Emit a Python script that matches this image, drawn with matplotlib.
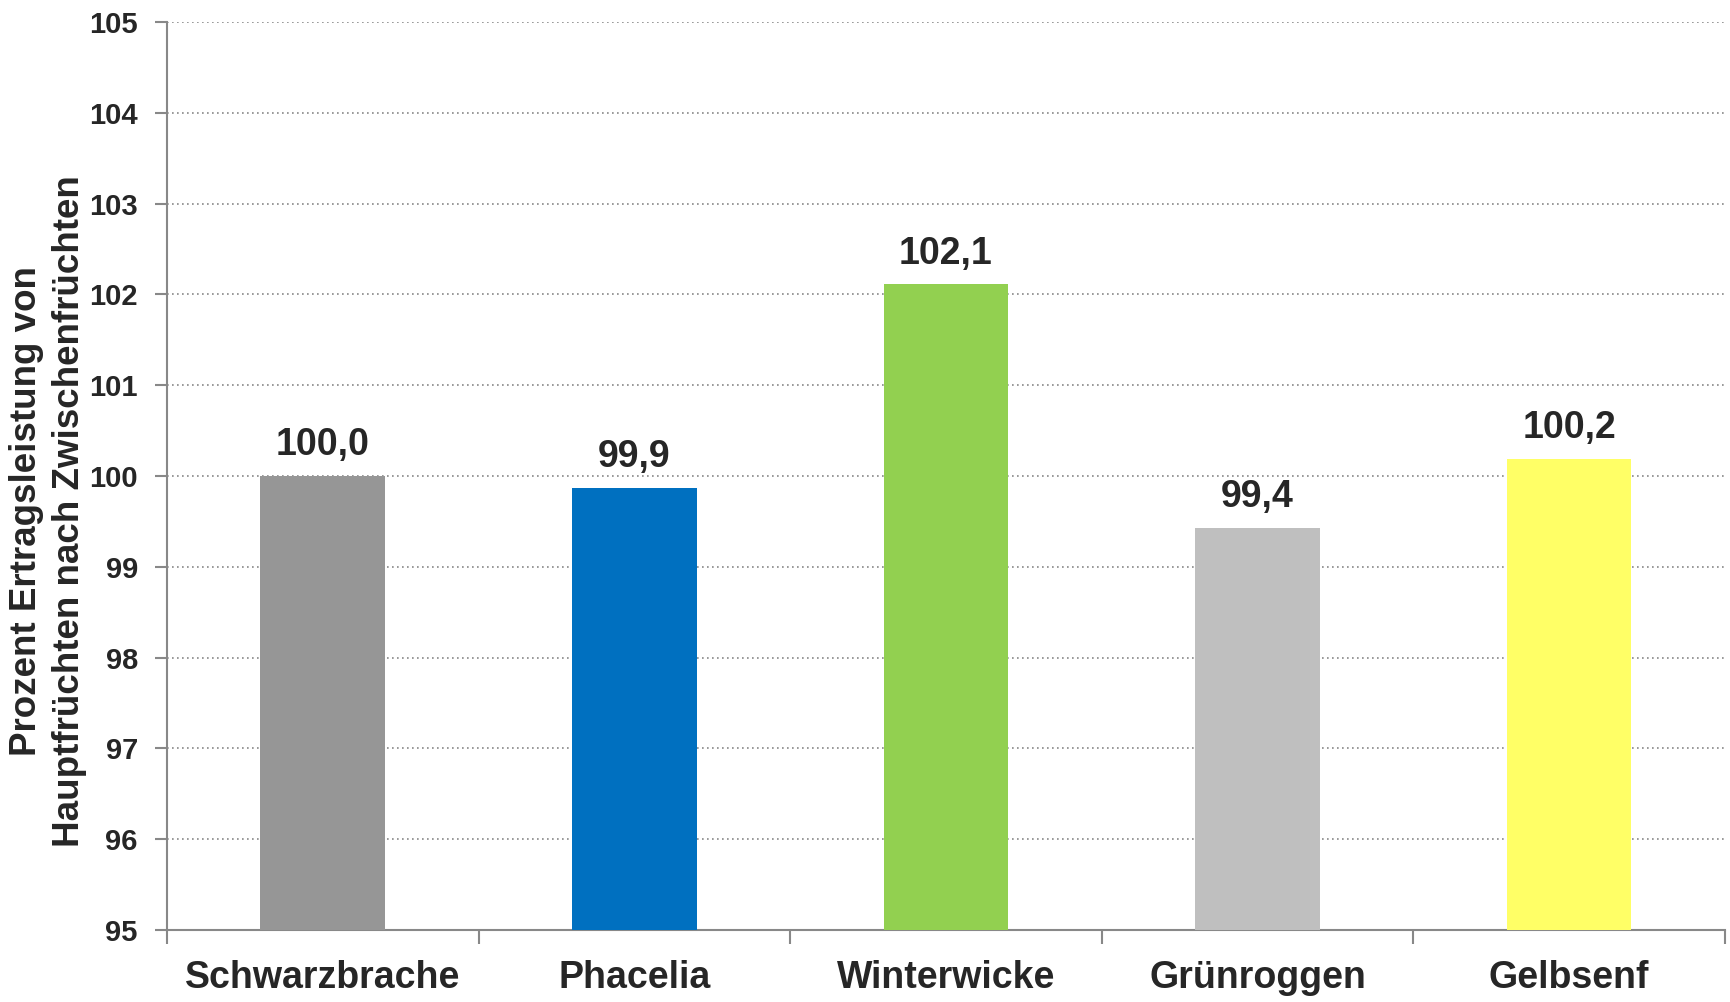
import numpy as np
import matplotlib.pyplot as plt

# Daten
kategorien = ["Schwarzbrache", "Phacelia", "Winterwicke", "Grünroggen", "Gelbsenf"]
werte = [100.0, 99.87, 102.11, 99.43, 100.19]
farben = ["#969696", "#0070C0", "#92D050", "#BFBFBF", "#FFFF66"]
y_ticks = [95, 96, 97, 98, 99, 100, 101, 102, 103, 104, 105]

plt.rcParams['font.family'] = ['Liberation Sans', 'DejaVu Sans']
plt.rcParams['font.weight'] = 'bold'

fig = plt.figure(figsize=(17.3, 10.02), dpi=100)
ax = fig.add_axes([0.0965, 0.072, 0.9005, 0.906])

x = np.arange(len(kategorien))
ax.bar(x, [w - 95 for w in werte], bottom=95, width=0.4, color=farben, zorder=3)

for xi, w in zip(x, werte):
    ax.text(xi, w + 0.14, f"{w:.1f}".replace(".", ","), ha="center", va="bottom",
            fontsize=27, fontweight="bold", color="#262626")

ax.set_xlim(-0.5, len(kategorien) - 0.5)
ax.set_ylim(95, 105)
ax.set_yticks(y_ticks)
ax.set_yticklabels([str(t) for t in y_ticks], fontsize=21, fontweight="bold", color="#262626")
ax.set_xticks(x)
ax.set_xticklabels(kategorien, fontsize=27, fontweight="bold", color="#262626")
ax.set_xticks(np.arange(-0.5, len(kategorien), 1), minor=True)
ax.tick_params(axis="x", which="major", length=0, pad=22)
ax.tick_params(axis="x", which="minor", length=10, color="#888888", width=1.5)
ax.tick_params(axis="y", length=9, color="#888888", width=1.5, pad=12)

ax.yaxis.grid(True, linestyle=(0, (1, 2)), color="#888888", linewidth=1.2, zorder=0)
for s in ["top", "right"]:
    ax.spines[s].set_visible(False)
for s in ["left", "bottom"]:
    ax.spines[s].set_color("#888888")
    ax.spines[s].set_linewidth(1.5)

fig.text(0.028, 0.49, "Prozent Ertragsleistung von\nHauptfrüchten nach Zwischenfrüchten",
         rotation=90, ha="center", va="center", fontsize=26.5, fontweight="bold",
         color="#262626", linespacing=1.3)

fig.savefig("out.png", dpi=100)
